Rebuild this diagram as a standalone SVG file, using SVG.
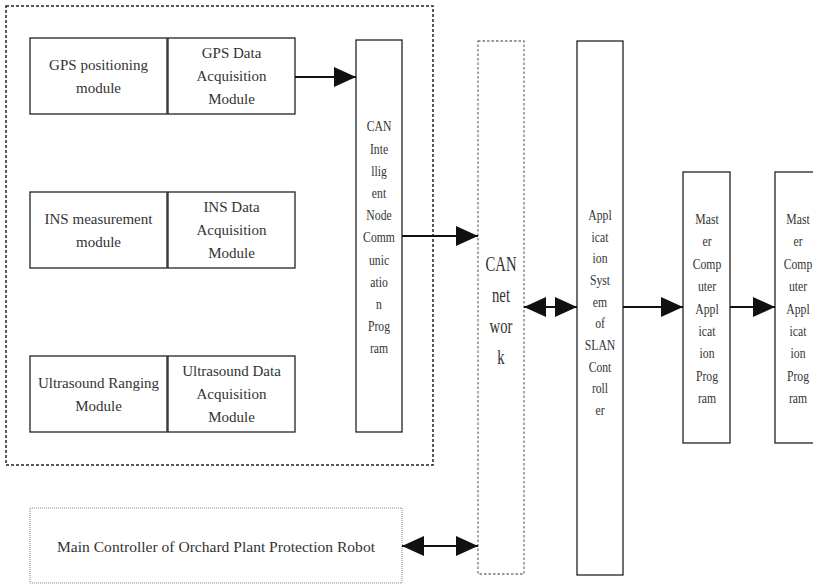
<svg xmlns="http://www.w3.org/2000/svg" width="813" height="584" viewBox="0 0 813 584">
<style>
.bx{fill:#fff;stroke:#222;stroke-width:1.3}
.outer{fill:none;stroke:#222;stroke-width:1.5;stroke-dasharray:3 2}
.dot{fill:#fff;stroke:#777;stroke-width:1.3;stroke-dasharray:2.5 2}
.fine{fill:#fff;stroke:#888;stroke-width:1;stroke-dasharray:1 1}
.t{font-family:"Liberation Serif",serif;font-size:15px;fill:#333;text-anchor:middle}
.tb{font-family:"Liberation Serif",serif;font-size:21px;fill:#333;text-anchor:middle}
.ar{stroke:#111;stroke-width:2;fill:none}
</style>
<defs>
<marker id="ah" viewBox="0 0 22 20" markerUnits="userSpaceOnUse" markerWidth="22" markerHeight="20" refX="22" refY="10" orient="auto-start-reverse">
<path d="M0,0 L22,10 L0,20 z" fill="#111"/>
</marker>
</defs>
<rect width="813" height="584" fill="#fff"/>
<g id="outer-frame"><rect class="outer" x="6" y="6" width="427" height="459"/></g>

<g id="gps-module"><rect class="bx" x="30" y="38" width="137" height="76"/>
<text class="t" x="98.5" y="70">GPS positioning</text>
<text class="t" x="98.5" y="93">module</text></g>
<g id="gps-acq"><rect class="bx" x="168" y="38" width="127" height="76"/>
<text class="t" x="231.5" y="58">GPS Data</text>
<text class="t" x="231.5" y="81">Acquisition</text>
<text class="t" x="231.5" y="104">Module</text></g>

<g id="ins-module"><rect class="bx" x="30" y="192" width="137" height="76"/>
<text class="t" x="98.5" y="224">INS measurement</text>
<text class="t" x="98.5" y="247">module</text></g>
<g id="ins-acq"><rect class="bx" x="168" y="192" width="127" height="76"/>
<text class="t" x="231.5" y="212">INS Data</text>
<text class="t" x="231.5" y="235">Acquisition</text>
<text class="t" x="231.5" y="258">Module</text></g>

<g id="us-module"><rect class="bx" x="30" y="356" width="137" height="76"/>
<text class="t" x="98.5" y="388">Ultrasound Ranging</text>
<text class="t" x="98.5" y="411">Module</text></g>
<g id="us-acq"><rect class="bx" x="168" y="356" width="127" height="76"/>
<text class="t" x="231.5" y="376">Ultrasound Data</text>
<text class="t" x="231.5" y="399">Acquisition</text>
<text class="t" x="231.5" y="422">Module</text></g>

<g id="can-node"><rect class="bx" x="356" y="40" width="46" height="392"/>
<g transform="translate(379 0) scale(0.78 1)">
<text class="t" x="0" y="131.5">CAN</text>
<text class="t" x="0" y="153.7">Inte</text>
<text class="t" x="0" y="175.9">llig</text>
<text class="t" x="0" y="198.1">ent</text>
<text class="t" x="0" y="220.3">Node</text>
<text class="t" x="0" y="242.5">Comm</text>
<text class="t" x="0" y="264.7">unic</text>
<text class="t" x="0" y="286.9">atio</text>
<text class="t" x="0" y="309.1">n</text>
<text class="t" x="0" y="331.3">Prog</text>
<text class="t" x="0" y="353.5">ram</text></g></g>

<g id="can-network"><rect class="dot" x="478" y="41" width="46" height="533"/>
<g transform="translate(501 0) scale(0.7 1)">
<text class="tb" x="0" y="271">CAN</text>
<text class="tb" x="0" y="302">net</text>
<text class="tb" x="0" y="333">wor</text>
<text class="tb" x="0" y="364">k</text></g></g>

<g id="app-system"><rect class="bx" x="577" y="41" width="46" height="534"/>
<g transform="translate(600 0) scale(0.78 1)">
<text class="t" x="0" y="220">Appl</text>
<text class="t" x="0" y="241.7">icat</text>
<text class="t" x="0" y="263.3">ion</text>
<text class="t" x="0" y="285">Syst</text>
<text class="t" x="0" y="306.7">em</text>
<text class="t" x="0" y="328.3">of</text>
<text class="t" x="0" y="350">SLAN</text>
<text class="t" x="0" y="371.7">Cont</text>
<text class="t" x="0" y="393.3">roll</text>
<text class="t" x="0" y="415">er</text></g></g>

<g id="master-1"><rect class="bx" x="683" y="172" width="47" height="271"/>
<g transform="translate(707 0) scale(0.78 1)">
<text class="t" x="0" y="224">Mast</text>
<text class="t" x="0" y="246.4">er</text>
<text class="t" x="0" y="268.8">Comp</text>
<text class="t" x="0" y="291.2">uter</text>
<text class="t" x="0" y="313.6">Appl</text>
<text class="t" x="0" y="336">icat</text>
<text class="t" x="0" y="358.4">ion</text>
<text class="t" x="0" y="380.8">Prog</text>
<text class="t" x="0" y="403.2">ram</text></g></g>

<g id="master-2"><rect class="bx" x="775" y="172" width="47" height="271"/>
<g transform="translate(798 0) scale(0.78 1)">
<text class="t" x="0" y="224">Mast</text>
<text class="t" x="0" y="246.4">er</text>
<text class="t" x="0" y="268.8">Comp</text>
<text class="t" x="0" y="291.2">uter</text>
<text class="t" x="0" y="313.6">Appl</text>
<text class="t" x="0" y="336">icat</text>
<text class="t" x="0" y="358.4">ion</text>
<text class="t" x="0" y="380.8">Prog</text>
<text class="t" x="0" y="403.2">ram</text></g></g>

<g id="main-controller"><rect class="fine" x="30" y="508" width="372" height="75"/>
<text class="t" x="216" y="552" textLength="318" lengthAdjust="spacingAndGlyphs">Main Controller of Orchard Plant Protection Robot</text></g>

<g id="connectors">
<line class="ar" x1="295" y1="77" x2="356" y2="77" marker-end="url(#ah)"/>
<line class="ar" x1="402" y1="236" x2="478" y2="236" marker-end="url(#ah)"/>
<line class="ar" x1="524" y1="307" x2="577" y2="307" marker-start="url(#ah)" marker-end="url(#ah)"/>
<line class="ar" x1="623" y1="307" x2="683" y2="307" marker-end="url(#ah)"/>
<line class="ar" x1="730" y1="307" x2="775" y2="307" marker-end="url(#ah)"/>
<line class="ar" x1="402" y1="546" x2="478" y2="546" marker-start="url(#ah)" marker-end="url(#ah)"/>
</g>
</svg>
